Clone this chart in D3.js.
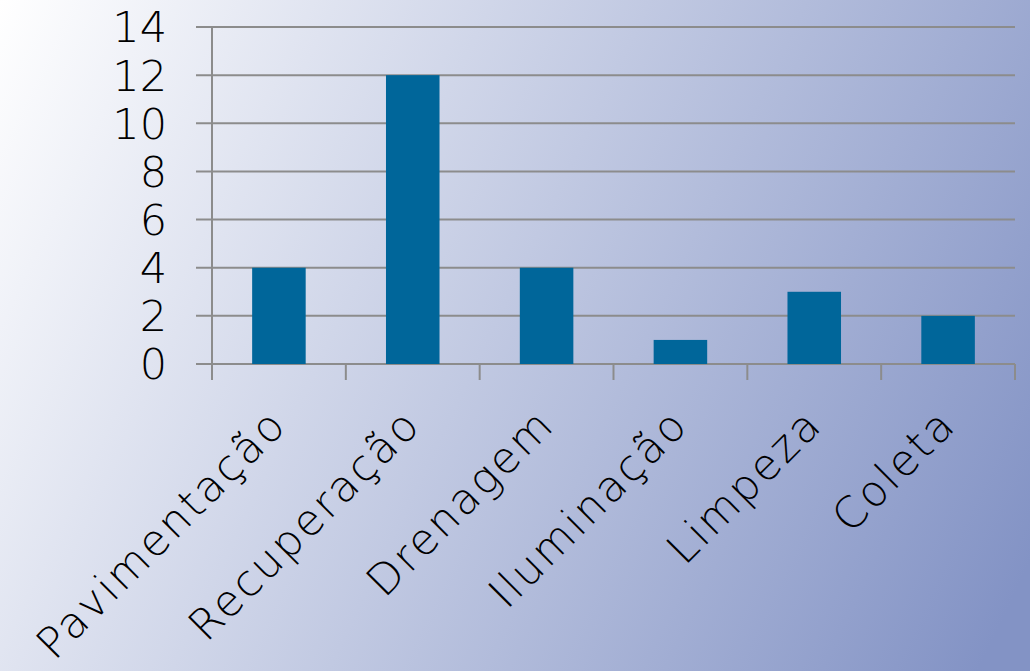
<!DOCTYPE html>
<html>
<head>
<meta charset="utf-8">
<script src="https://cdn.jsdelivr.net/npm/d3@7"></script>
<style>
  html, body { margin: 0; padding: 0; overflow: hidden; }
  svg { display: block; }
</style>
</head>
<body>
<svg id="chart" width="1030" height="671"></svg>
<script>
const categories = ["Pavimentação", "Recuperação", "Drenagem", "Iluminação", "Limpeza", "Coleta"];
const values = [4, 12, 4, 1, 3, 2];
const yTicks = [0, 2, 4, 6, 8, 10, 12, 14];

const W = 1030, H = 671;
const margin = { left: 212, right: 15, top: 27, bottom: 307 };
const svg = d3.select("#chart");
const FONT = "'DejaVu Sans ExtraLight', 'DejaVu Sans', sans-serif";

const defs = svg.append("defs");
const grad = defs.append("linearGradient").attr("id", "bg")
  .attr("x1", "0").attr("y1", "0").attr("x2", "1.15").attr("y2", "0.36");
grad.append("stop").attr("offset", "0").attr("stop-color", "#ffffff");
grad.append("stop").attr("offset", "1").attr("stop-color", "#8393c5");
svg.append("rect").attr("width", W).attr("height", H).attr("fill", "url(#bg)");

const x = d3.scaleBand().domain(categories)
  .range([margin.left, W - margin.right]).paddingInner(0.6).paddingOuter(0.3);
const xb = d3.scaleBand().domain(categories).range([margin.left, W - margin.right]);
const y = d3.scaleLinear().domain([0, 14]).range([H - margin.bottom, margin.top]);

const gridColor = "#8c8c8c";

svg.append("g").selectAll("line").data(yTicks).join("line")
  .attr("x1", margin.left - 16).attr("x2", W - margin.right)
  .attr("y1", d => y(d)).attr("y2", d => y(d))
  .attr("stroke", gridColor).attr("stroke-width", 2);

svg.append("line")
  .attr("x1", margin.left).attr("x2", margin.left)
  .attr("y1", y(14)).attr("y2", y(0) + 16)
  .attr("stroke", gridColor).attr("stroke-width", 2);

const bounds = categories.map(c => xb(c) + xb.bandwidth());
svg.append("g").selectAll("line").data(bounds).join("line")
  .attr("x1", d => d).attr("x2", d => d)
  .attr("y1", y(0)).attr("y2", y(0) + 16)
  .attr("stroke", gridColor).attr("stroke-width", 2);

svg.append("g").selectAll("rect").data(values).join("rect")
  .attr("x", (d, i) => x(categories[i]))
  .attr("width", x.bandwidth())
  .attr("y", d => y(d))
  .attr("height", d => y(0) - y(d))
  .attr("fill", "#00669a");

svg.append("g").selectAll("text").data(yTicks).join("text")
  .attr("x", 167).attr("y", d => y(d)).attr("dy", "0.36em")
  .attr("text-anchor", "end")
  .attr("font-family", FONT).attr("font-weight", 200).attr("font-size", 43)
  .attr("fill", "#000").text(d => d);

svg.append("g").selectAll("text").data(categories).join("text")
  .attr("text-anchor", "end")
  .attr("transform", c => `translate(${xb(c) + xb.bandwidth() / 2 + 10},${y(0) + 63}) rotate(-45)`)
  .attr("font-family", FONT).attr("font-weight", 200).attr("font-size", 43)
  .attr("letter-spacing", 2.4)
  .attr("fill", "#000").text(c => c);
</script>
</body>
</html>
